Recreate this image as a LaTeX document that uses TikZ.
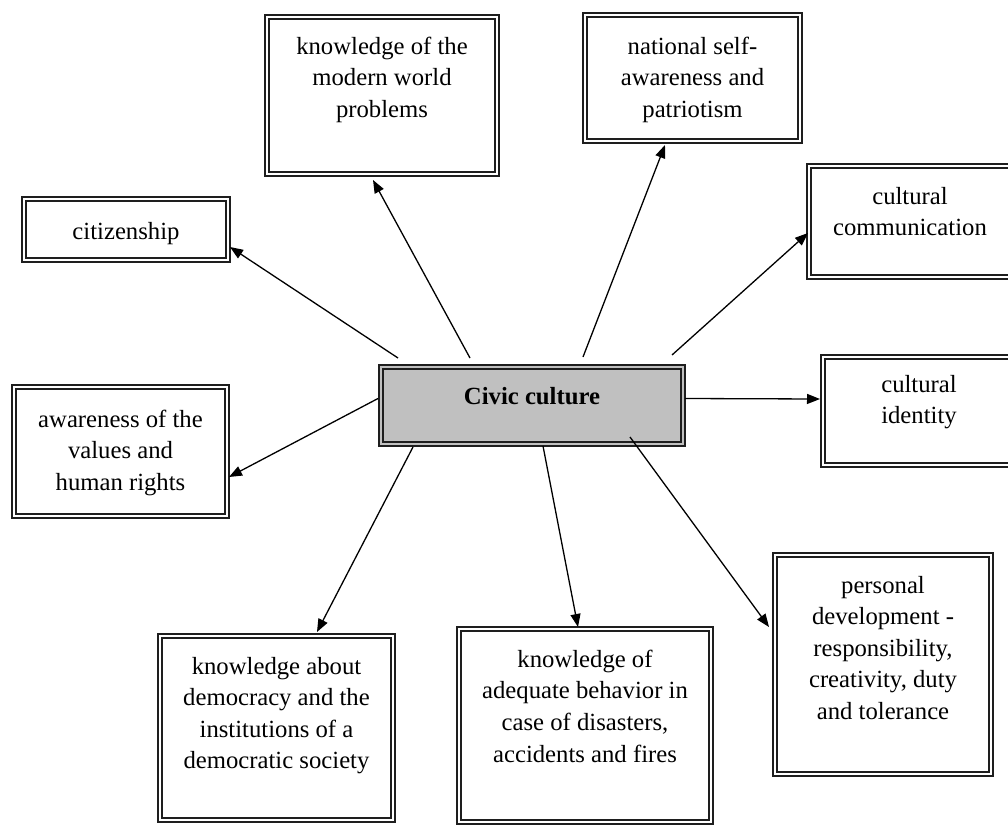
\documentclass[tikz,border=0pt]{standalone}
\usepackage{fontspec}
\setmainfont{Liberation Serif}
\usetikzlibrary{arrows.meta,calc}
\newlength{\pxu}\setlength{\pxu}{0.5pt}
\newcommand{\boxtxt}[4]{\parbox[c][#2\pxu][t]{#1\pxu}{\centering\vspace*{#3\pxu}#4\par}}
\definecolor{civgray}{RGB}{192,192,192}
\definecolor{edge}{RGB}{30,30,30}
\tikzset{
  frame/.style={draw=edge, line width=1.2pt, inner sep=0pt, outer sep=0pt, fill=white,
    path picture={\draw[edge, line width=1.1pt]
      ([shift={(3.9,3.9)}]path picture bounding box.north west) rectangle
      ([shift={(-3.9,-3.9)}]path picture bounding box.south east);}},
  centre/.style={frame, fill=civgray},
  arr/.style={-{Triangle[length=6.5pt,width=5pt]}, line width=0.65pt, black},
  every node/.style={font=\fontsize{12.35pt}{15.8pt}\selectfont}
}
\begin{document}
\begin{tikzpicture}[x=0.5pt,y=-0.5pt]
\useasboundingbox (0,0) rectangle (1008,825);
\clip (0,0) rectangle (1008,825);

\node[frame]  (cit) at (126,229.5)  {\boxtxt{208}{65}{25}{citizenship}};
\node[frame]  (mod) at (382,95.5)   {\boxtxt{234}{161}{22}{knowledge of the\\modern world\\problems}};
\node[frame]  (nat) at (692.5,78)   {\boxtxt{219}{130}{24}{national self-\\awareness and\\patriotism}};
\node[frame]  (com) at (910,221.5)  {\boxtxt{206}{115}{23}{cultural\\communication}};
\node[frame]  (ide) at (919,411)    {\boxtxt{196}{112}{20}{cultural\\identity}};
\node[frame]  (awa) at (120.5,451.5){\boxtxt{217}{133}{25}{awareness of the\\values and\\human rights}};
\node[centre] (civ) at (532,405.5)  {\boxtxt{306}{81}{22}{\textbf{Civic culture}}};
\node[frame]  (dem) at (276.5,728)  {\boxtxt{237}{188}{23}{knowledge about\\democracy and the\\institutions of a\\democratic society}};
\node[frame]  (ade) at (585,725.5)  {\boxtxt{256}{197}{23}{knowledge of\\adequate behavior in\\case of disasters,\\accidents and fires}};
\node[frame]  (per) at (883,664.5)  {\boxtxt{220}{223}{23}{personal\\development -\\responsibility,\\creativity, duty\\and tolerance}};

\draw[arr] ([shift={(19,-7)}]civ.north west) -- ([shift={(0,-15)}]cit.south east);
\draw[arr] ([shift={(91,-7)}]civ.north west) -- ([shift={(108,4)}]mod.south west);
\draw[arr] ([shift={(204,-8)}]civ.north west) -- ([shift={(82,2)}]nat.south west);
\draw[arr] ([shift={(-13,-10)}]civ.north east) -- ([shift={(1,-46)}]com.south west);
\draw[arr] ([shift={(0,-7)}]civ.east) -- ([shift={(-1,-12)}]ide.west);
\draw[arr] ([shift={(-1,-7)}]civ.west) -- ([shift={(0,92)}]awa.north east);
\draw[arr] ([shift={(34,1)}]civ.south west) -- ([shift={(159,-2)}]dem.north west);
\draw[arr] ([shift={(164,0)}]civ.south west) -- ([shift={(121,0)}]ade.north west);
\draw[arr] ([shift={(-55,-9)}]civ.south east) -- ([shift={(-4,-149)}]per.south west);
\end{tikzpicture}
\end{document}
